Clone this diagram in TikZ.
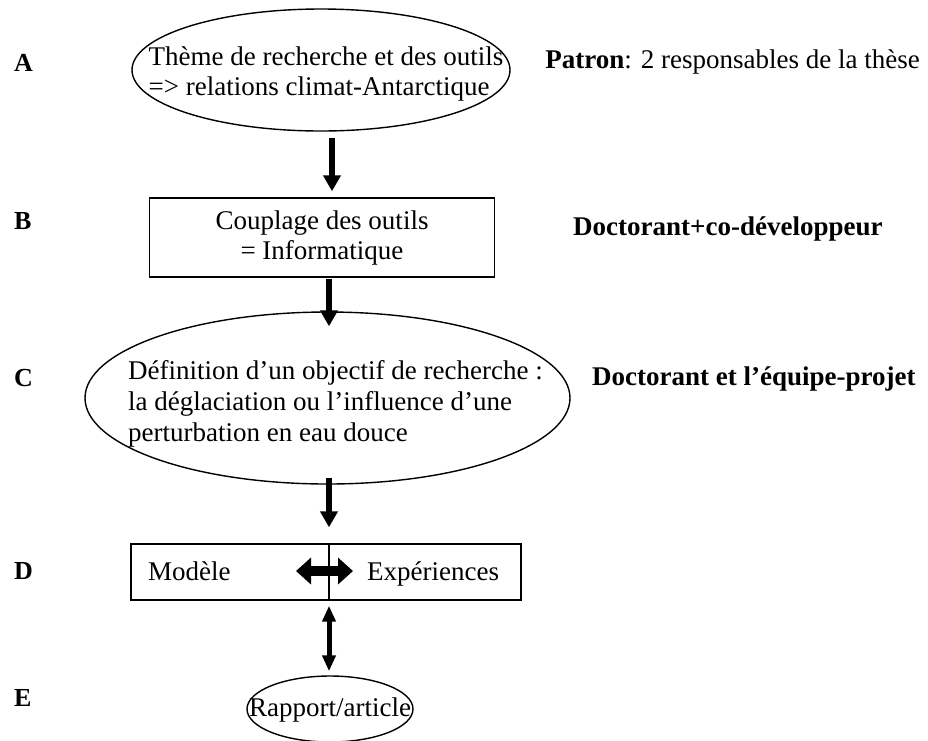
\documentclass[tikz,border=0pt]{standalone}
\usepackage{fontspec}
\setmainfont{Liberation Serif}
\usetikzlibrary{arrows.meta,shapes.geometric}
\begin{document}
\begin{tikzpicture}[x=1pt,y=-1pt,
  every node/.style={font=\fontsize{27}{30}\selectfont, inner sep=0pt},
  ell/.style={draw, ellipse, line width=1.4pt},
  box/.style={draw, rectangle, line width=1.4pt},
  lab/.style={font=\fontsize{26}{30}\selectfont\bfseries, anchor=base west},
  rlab/.style={font=\fontsize{27}{30}\selectfont\bfseries, anchor=base west},
  arr/.style={line width=6pt, -{Triangle[width=17pt,length=16pt]}},
  dbl/.style={line width=5pt, {Triangle[width=13pt,length=16pt]}-{Triangle[width=13pt,length=16pt]}},
  blockarr/.style={line width=10pt, {Triangle[width=26pt,length=15pt]}-{Triangle[width=26pt,length=15pt]}},
]
\useasboundingbox (0,0) rectangle (928,740);
% A
\node[ell, minimum width=378pt, minimum height=122pt] (A) at (321,70) {};
\node[align=left] (At) at (326,74) {Thème de recherche et des outils\\=> relations climat-Antarctique};
% B
\node[box, minimum width=345pt, minimum height=79pt, align=center] (B) at (322,237.5) {Couplage des outils\\= Informatique};
% C
\node[ell, minimum width=485pt, minimum height=172pt] (C) at (327.5,398) {};
\node[align=left, anchor=west, font=\fontsize{27}{31}\selectfont] (Ct) at (128,404) {Définition d’un objectif de recherche :\\la déglaciation ou l’influence d’une\\perturbation en eau douce};
% D
\node[box, minimum width=390pt, minimum height=56pt] (D) at (326,572) {};
\node[anchor=base west] (Dm) at (148,580) {Modèle};
\node[anchor=base west] (De) at (367,580) {Expériences};
\draw[line width=1.4pt] ([xshift=3pt]D.north) -- ([xshift=3pt]D.south);
\coordinate (dl) at (296,571);
\coordinate (dr) at (353,571);
\draw[blockarr] (dl) -- (dr);
% E
\node[ell, minimum width=166pt, minimum height=66pt] (E) at (330,709) {};
\node[anchor=base] (Et) at (330,716) {Rapport/article};
% arrows
\draw[arr] ([xshift=11pt,yshift=-6pt]A.south) -- ([xshift=10pt,yshift=6pt]B.north);
\draw[arr] ([xshift=7pt,yshift=-1pt]B.south) -- ([xshift=1.5pt,yshift=-15pt]C.north);
\draw[arr] ([xshift=1.5pt,yshift=7pt]C.south) -- ([xshift=3pt,yshift=16pt]D.north);
\draw[dbl] ([xshift=3pt,yshift=-5pt]D.south) -- ([xshift=-1pt,yshift=4pt]E.north);
% left labels
\node[lab] (LA) at (14,71) {A};
\node[lab] (LB) at (14,229) {B};
\node[lab] (LC) at (14,386) {C};
\node[lab] (LD) at (14,579) {D};
\node[lab] (LE) at (14,706) {E};
% right labels
\node[anchor=base east] (RA) at (920,68) {\textbf{Patron}: 2 responsables de la thèse};
\node[rlab] (RB) at (573,235) {Doctorant+co-développeur};
\node[rlab] (RC) at (592,385) {Doctorant et l’équipe-projet};
\end{tikzpicture}
\end{document}
